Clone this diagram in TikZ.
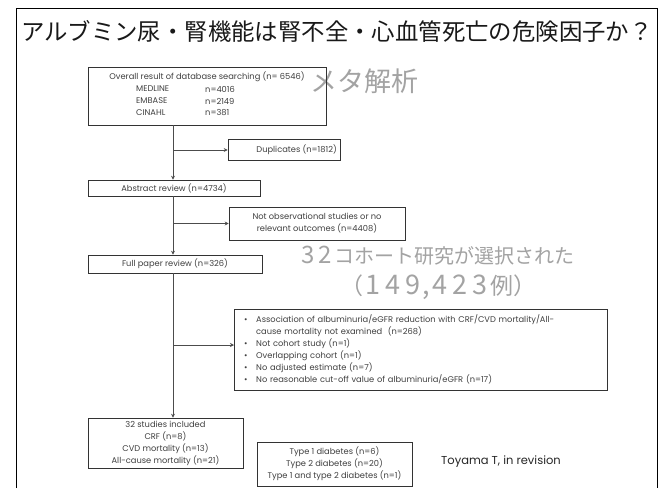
\documentclass[tikz,border=0pt]{standalone}
\usepackage{fontspec}
\setmainfont{Poppins}
\newfontfamily\jp{Noto Sans CJK JP}
\usetikzlibrary{arrows.meta}
\newcommand\dgA[1]{\makebox[17pt]{\fontsize{24}{26}\selectfont #1}}
\newcommand\dgB[1]{\makebox[20pt]{\fontsize{27}{29}\selectfont #1}}
\begin{document}
\begin{tikzpicture}[x=1pt,y=-1pt,
 box/.style={draw=black!80, line width=0.6pt, inner sep=0pt},
 txt/.style={font=\fontsize{8.3}{12}\selectfont, text=black!75, inner sep=0pt},
 conn/.style={draw=black!70, line width=0.6pt},
 arr/.style={conn,-{Stealth[length=4pt,width=4pt]}},
 graytxt/.style={text=black!36, inner sep=0pt}]
\useasboundingbox (0,0) rectangle (664,488);
\fill[white] (0,0) rectangle (664,488);
\draw[line width=1pt] (16,488) -- (16,8) -- (657,8) -- (657,488);
% title
\node[inner sep=0pt, text=black!90, font=\jp\fontsize{23.4}{26}\selectfont] (title) at (337,31) {アルブミン尿・腎機能は腎不全・心血管死亡の危険因子か？};
\node[graytxt, font=\jp\fontsize{27}{29}\selectfont] (meta) at (364,81) {メタ解析};
\node[graytxt, font=\jp\fontsize{20}{22}\selectfont] (sel1) at (437,256) {\dgA{3}\dgA{2}コホート研究が選択された};
\node[graytxt, font=\jp\fontsize{23}{25}\selectfont] (sel2) at (438,287) {（\dgB{1}\dgB{4}\dgB{9}\makebox[7pt]{\fontsize{27}{29}\selectfont,}\dgB{4}\dgB{2}\dgB{3}例）};
% boxes
\node[box, minimum width=238, minimum height=58] (b1) at (207,96) {};
\node[txt] (b1t) at (207,77) {Overall result of database searching (n= 6546)};
\node[txt, anchor=west] (m1) at (136,89) {MEDLINE};
\node[txt, anchor=west] (m2) at (136,101) {EMBASE};
\node[txt, anchor=west] (m3) at (136,113) {CINAHL};
\node[txt, anchor=west] (n1) at (205,89) {n=4016};
\node[txt, anchor=west] (n2) at (205,101) {n=2149};
\node[txt, anchor=west] (n3) at (205,113) {n=381};
\node[box, minimum width=112, minimum height=21] (dup) at (284,150) {};
\node[txt, anchor=east] (dupt) at (337,150) {Duplicates (n=1812)};
\node[box, minimum width=172, minimum height=16] (abs) at (174,188) {};
\node[txt] (abst) at (174,188) {Abstract review (n=4734)};
\node[box, minimum width=176, minimum height=33] (obs) at (317,223.5) {};
\node[txt, align=center] (obst) at (317,223.5) {Not observational studies or no\\relevant outcomes (n=4408)};
\node[box, minimum width=373, minimum height=81] (exc) at (420.5,349.5) {};
\node[txt, anchor=north west, align=left, text width=355] (exct) at (244,314) {%
\makebox[12pt][l]{•}Association of albuminuria/eGFR reduction with CRF/CVD mortality/All-\\
\makebox[12pt][l]{}cause mortality not examined\ \ (n=268)\\
\makebox[12pt][l]{•}Not cohort study (n=1)\\
\makebox[12pt][l]{•}Overlapping cohort (n=1)\\
\makebox[12pt][l]{•}No adjusted estimate (n=7)\\
\makebox[12pt][l]{•}No reasonable cut-off value of albuminuria/eGFR (n=17)};
\node[box, minimum width=174, minimum height=18] (full) at (175,264) {};
\node[txt] (fullt) at (175,264) {Full paper review (n=326)};
\node[box, minimum width=155, minimum height=50] (inc) at (165.5,443) {};
\node[txt, align=center] (inct) at (165.5,443) {32 studies included\\CRF (n=8)\\CVD mortality (n=13)\\All-cause mortality (n=21)};
\node[box, minimum width=155, minimum height=44] (typ) at (334.5,464) {};
\node[txt, align=center] (typt) at (334.5,464) {Type 1 diabetes (n=6)\\Type 2 diabetes (n=20)\\Type 1 and type 2 diabetes (n=1)};
\node[inner sep=0pt, font=\fontsize{11.5}{13}\selectfont, text=black!85] (ref) at (501,462) {Toyama T, in revision};
% connectors
\coordinate (v) at (173,0);
\draw[arr] (b1.south -| v) -- (abs.north -| v);
\draw[arr] (v |- dup.west) -- (dup.west);
\draw[arr] (abs.south -| v) -- (full.north -| v);
\draw[arr] (v |- obs.west) -- (obs.west);
\draw[arr] (full.south -| v) -- (inc.north -| v);
\coordinate (ea) at (234,345);
\draw[arr] (v |- ea) -- (ea);
\end{tikzpicture}
\end{document}
